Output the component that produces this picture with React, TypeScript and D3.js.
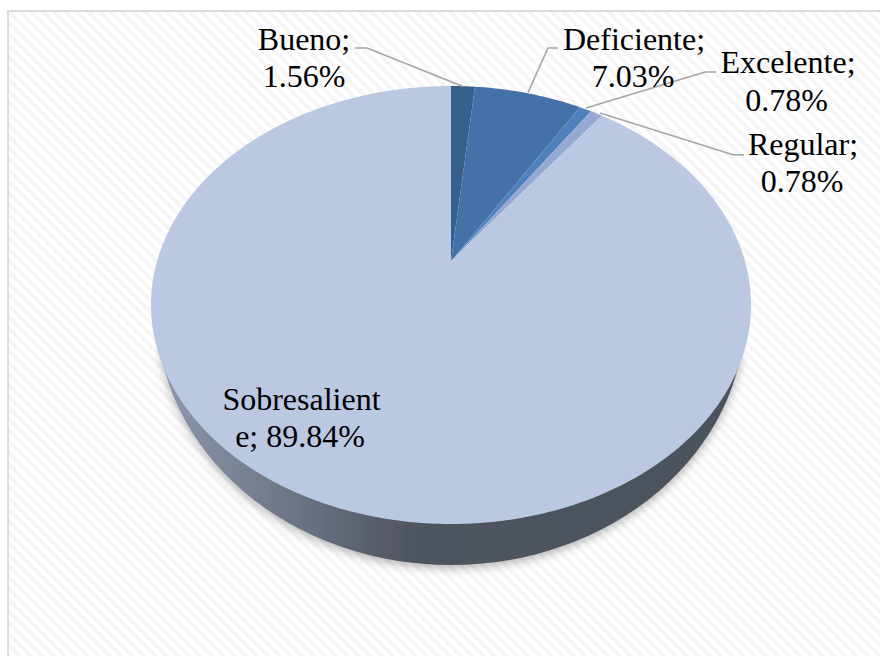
import React from "react";
import * as d3 from "d3";

const categories = ["Bueno", "Deficiente", "Excelente", "Regular", "Sobresaliente"];
const percents = [1.56, 7.03, 0.78, 0.78, 89.84];
const sliceColors = ["#355f8d", "#4472a8", "#4f81bd", "#95a9d3", "#bac8e1"];
const percentLabels = ["1.56%", "7.03%", "0.78%", "0.78%", "89.84%"];

const W = 880, H = 656;
const CX = 451, CY = 305, RX = 300, RY = 219, K = -0.2;
// lower rim of the disc: seen in perspective, it is a different ellipse from the top face
const BOTTOM = { cy: 313, rx: 294, ry: 252 };

// perspective projection of a unit-circle point (angle clockwise from the top, fraction t of the radius)
function project(a: number, t = 1): [number, number] {
  const u = Math.sin(a) * t;
  const v = -Math.cos(a) * t;
  const w = 1 + K * v;
  return [CX + (RX * u * Math.sqrt(1 - K * K)) / w, CY + (RY * (v + K)) / w];
}

const arcs = d3.pie<number>().sort(null).value((d) => d)(percents);
const lineGen = d3.line<[number, number]>().x((d) => d[0]).y((d) => d[1]);

function slicePath(a0: number, a1: number) {
  const n = Math.max(4, Math.ceil((a1 - a0) * 80));
  const angles = d3.range(n + 1).map((i) => a0 + ((a1 - a0) * i) / n);
  return lineGen([project(0, 0), ...angles.map((a) => project(a))]) + "Z";
}

const leaders: [number, number][][] = [
  [[355, 48], [367, 48], [463, 86.5]],
  [[528, 92.5], [548, 48], [558, 48]],
  [[586, 108], [705, 72], [716, 72]],
  [[600, 113], [733, 154.7], [744, 154.7]],
];

const labelPos = [
  { x: [304, 304], y: [50, 87], lines: [categories[0] + ";", percentLabels[0]] },
  { x: [634, 633], y: [50, 87], lines: [categories[1] + ";", percentLabels[1]] },
  { x: [788, 786.5], y: [73, 110.5], lines: [categories[2] + ";", percentLabels[2]] },
  { x: [803, 802], y: [155, 192], lines: [categories[3] + ";", percentLabels[3]] },
  { x: [301.5, 300], y: [410, 447], lines: ["Sobresalient", "e; " + percentLabels[4]] },
];

export default function App() {
  return (
    <svg width={W} height={H} style={{ position: "absolute", left: 0, top: 0, display: "block" }}>
      <defs>
        <pattern id="hatch" width="8" height="8" patternUnits="userSpaceOnUse" patternTransform="rotate(45)">
          <rect width="8" height="8" fill="#ffffff" />
          <rect width="8" height="4" fill="#f6f6f6" />
        </pattern>
        <linearGradient id="side" gradientUnits="userSpaceOnUse" x1="157" x2="745" y1="0" y2="0">
          <stop offset="0.02" stopColor="#8c95aa" />
          <stop offset="0.44" stopColor="#4e545e" />
          <stop offset="1" stopColor="#4a525b" />
        </linearGradient>
        <filter id="shadow" filterUnits="userSpaceOnUse" x="100" y="300" width="700" height="320">
          <feDropShadow dx="0" dy="3" stdDeviation="5" floodColor="#000" floodOpacity="0.3" />
        </filter>
        <clipPath id="lowerSide">
          <rect x={0} y={352} width={W} height={H} />
        </clipPath>
      </defs>
      <rect width={W} height={H} fill="#fff" />
      <rect x={8} y={11} width={W} height={H} fill="url(#hatch)" stroke="#dcdcdc" strokeWidth={2} />
      <g filter="url(#shadow)">
        <ellipse cx={CX} cy={BOTTOM.cy} rx={BOTTOM.rx} ry={BOTTOM.ry} fill="url(#side)" clipPath="url(#lowerSide)" />
      </g>
      {arcs.map((a, i) => (
        <path key={categories[i]} d={slicePath(a.startAngle, a.endAngle)} fill={sliceColors[i]} />
      ))}
      {leaders.map((pts, i) => (
        <path key={i} d={lineGen(pts) || ""} fill="none" stroke="#a6a6a6" strokeWidth={1.6} />
      ))}
      {labelPos.map((l, i) => (
        <text key={i} textAnchor="middle" fontFamily="Liberation Serif" fontSize={32} fill="#000">
          {l.lines.map((t, j) => (
            <tspan key={j} x={l.x[j]} y={l.y[j]}>{t}</tspan>
          ))}
        </text>
      ))}
    </svg>
  );
}
